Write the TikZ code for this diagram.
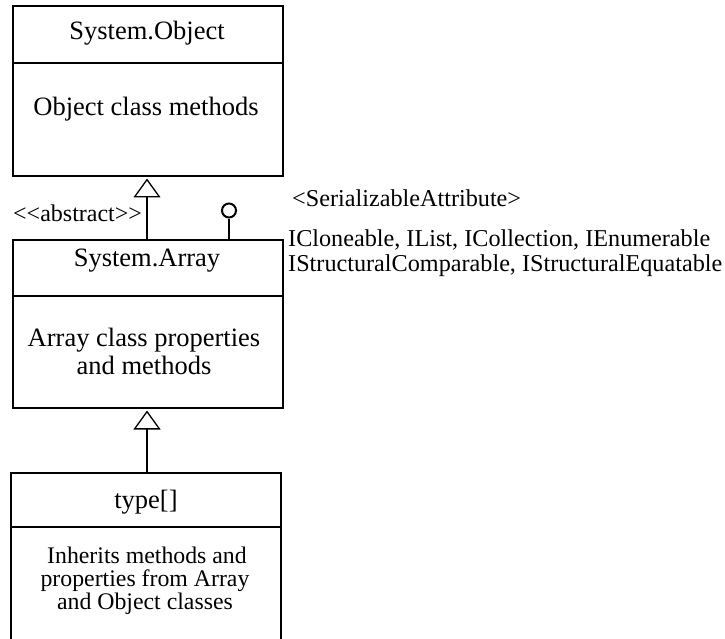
\documentclass[tikz,border=0pt]{standalone}
\usepackage{fontspec}
\setmainfont{Liberation Serif}
\usetikzlibrary{arrows.meta}
\tikzset{
  umlbox/.style={draw, line width=2pt, rectangle, inner sep=0pt, anchor=north west, align=center},
  boxfont/.style={font=\fontsize{26.5}{28}\selectfont},
  smallfont/.style={font=\fontsize{24.2}{25}\selectfont},
  inhfont/.style={font=\fontsize{23.8}{23}\selectfont},
  gen/.style={line width=2pt, -{Triangle[open, length=19pt, width=27pt, line width=1.3pt]}, shorten >=3.5pt},
  lbl/.style={inner sep=0pt, anchor=base west, smallfont}
}
\begin{document}
\begin{tikzpicture}[x=1pt,y=-1pt]
\useasboundingbox (0,0) rectangle (725,639);
\clip (0,0) rectangle (725,639);
% System.Object
\node[umlbox, minimum width=270, minimum height=57] (objh) at (12,5) {};
\node[umlbox, minimum width=270, minimum height=113] (objb) at (12,62) {};
\node[boxfont, anchor=base] (objt) at (147,40) {System.Object};
\node[boxfont, anchor=base] (objm) at (146,116) {Object class methods};
% System.Array
\node[umlbox, minimum width=270, minimum height=56] (arrh) at (12,239) {};
\node[umlbox, minimum width=270, minimum height=112] (arrb) at (12,295) {};
\node[boxfont, anchor=base] (arrt) at (147,266) {System.Array};
\node[boxfont, anchor=base, align=center] (arrm) at (144,374) {Array class properties\\and methods};
% type[]
\node[umlbox, minimum width=270, minimum height=140] (typb) at (10,526) {};
\node[umlbox, minimum width=270, minimum height=54] (typh) at (10,472) {};
\node[boxfont, anchor=base] (typt) at (146,508) {type[]};
\node[inhfont, anchor=base, align=center] (typm) at (145,609) {\,Inherits methods and\\properties from Array\\and Object classes};
% generalizations
\coordinate (g1s) at (147,239);
\coordinate (g1e) at (147,175);
\draw[gen] (g1s) -- (g1e);
\coordinate (g2s) at (147,472);
\coordinate (g2e) at (147,407);
\draw[gen] (g2s) -- (g2e);
% lollipop
\node[draw, circle, line width=2pt, minimum size=14, inner sep=0pt] (lol) at (229,210.5) {};
\coordinate (lols) at (229,239);
\draw[line width=2pt] (lols) -- (lol.south);
% labels
\node[font=\fontsize{24}{25}\selectfont, inner sep=0pt, anchor=base west] (abs) at (13,221) {<{}<abstract>{}>};
\node[lbl] (ser) at (292,206) {<SerializableAttribute>};
\node[lbl] (ic1) at (288,246) {ICloneable, IList, ICollection, IEnumerable};
\node[lbl] (ic2) at (288,271) {IStructuralComparable, IStructuralEquatable};
\end{tikzpicture}
\end{document}
